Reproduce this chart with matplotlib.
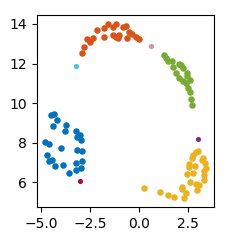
#!/usr/bin/env python3

import matplotlib
matplotlib.use("Agg")
import matplotlib.pyplot as plt

# cluster points
blue_x = [-4.49, -4.34, -4.18, -4.39, -3.72, -3.81, -3.24, -3.19, -3.01, -2.96,
          -4.81, -4.59, -3.98, -3.18, -2.91, -4.72, -4.61, -4.44, -4.30, -3.88,
          -3.21, -2.94, -2.97, -3.21, -3.60]
blue_y = [9.39, 9.45, 9.15, 8.86, 8.90, 8.58, 8.60, 8.31, 8.39, 8.13,
          8.06, 7.94, 7.75, 7.65, 7.60, 7.37, 7.10, 7.13, 6.83, 6.88,
          6.98, 7.08, 6.74, 6.61, 6.46]

orange_x = [-2.94, -2.81, -2.65, -2.52, -2.38, -2.14, -1.80, -1.82, -1.60, -1.36,
            -1.36, -1.17, -1.19, -1.05, -1.09, -0.83, -0.69, -0.63, -0.51, -0.36,
            -0.18, 0.00]
orange_y = [12.55, 12.82, 13.23, 13.09, 13.28, 13.68, 13.81, 13.33, 13.98, 13.86,
            13.46, 14.00, 13.33, 13.43, 13.31, 13.86, 13.91, 13.29, 13.60, 13.51,
            13.36, 13.23]

green_x = [1.26, 1.35, 1.45, 1.67, 1.72, 2.03, 2.11, 2.24, 1.87, 2.04,
           2.42, 2.45, 2.24, 2.38, 2.59, 2.50, 2.59, 2.64, 2.69]
green_y = [12.43, 12.30, 12.15, 12.12, 11.84, 11.98, 11.93, 11.78, 11.53, 11.29,
           11.51, 11.37, 11.11, 11.04, 11.17, 10.75, 10.58, 10.23, 9.92]

yellow_x = [0.24, 1.07, 1.45, 1.77, 2.16, 2.19, 2.38, 2.28, 2.60, 2.45,
            2.76, 2.91, 3.03, 2.96, 3.30, 3.30, 3.30, 3.42, 3.35, 3.21,
            3.27, 2.84, 2.55, 2.55, 2.67, 2.76, 2.89, 3.01]
yellow_y = [5.73, 5.52, 5.38, 5.25, 5.78, 5.65, 5.45, 5.20, 6.04, 6.42,
            6.46, 5.92, 5.85, 5.62, 6.12, 6.39, 6.58, 6.74, 6.96, 7.13,
            7.25, 6.83, 6.93, 6.79, 7.22, 7.38, 7.52, 7.59]

# single outlier points: (x, y, colour)
singles = [
    (-3.24, 11.86, "#4DBEEE"),
    (0.58, 12.90, "#DE8CB0"),
    (2.98, 8.18, "#7E2F8E"),
    (-3.03, 6.09, "#A2142F"),
]


def main() -> int:
    fig, ax = plt.subplots(figsize=(2.43, 2.46), dpi=100)

    ax.scatter(blue_x, blue_y, s=22, color="#0072BD", linewidths=0)
    ax.scatter(orange_x, orange_y, s=22, color="#D95319", linewidths=0)
    ax.scatter(green_x, green_y, s=22, color="#77AC30", linewidths=0)
    ax.scatter(yellow_x, yellow_y, s=22, color="#EDB120", linewidths=0)
    for x, y, c in singles:
        ax.scatter([x], [y], s=14, color=c, linewidths=0)

    ax.set_xlim(-5.22, 3.81)
    ax.set_ylim(4.76, 14.45)
    ax.set_xticks([-5.0, -2.5, 0.0, 2.5])
    ax.set_yticks([6, 8, 10, 12, 14])

    fig.subplots_adjust(left=0.152, right=0.881, top=0.939, bottom=0.159)
    fig.savefig("out.png", dpi=100)
    plt.close(fig)
    return 0


if __name__ == "__main__":
    raise SystemExit(main())
